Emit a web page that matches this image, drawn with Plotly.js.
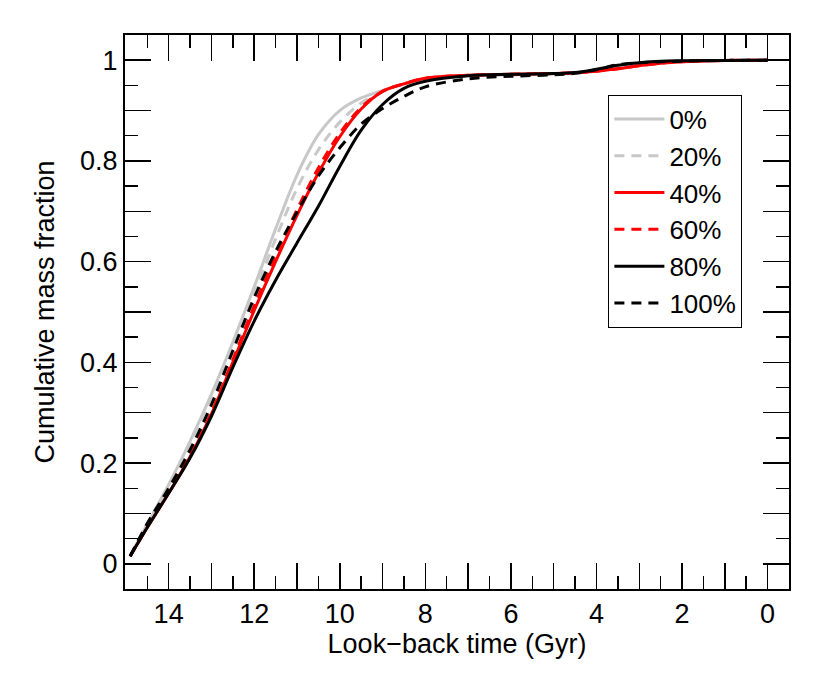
<!DOCTYPE html>
<html>
<head>
<meta charset="utf-8">
<script src="https://cdn.plot.ly/plotly-3.0.1.min.js"></script>
<style>html,body{margin:0;padding:0;background:#fff;}#chart{width:830px;height:694px;}</style>
</head>
<body>
<div id="chart"></div>
<script>
// Look-back time (Gyr)
const lookback = [14.9, 14.5, 14, 13.5, 13, 12.5, 12, 11.5, 11, 10.5, 10, 9.5, 9, 8.5, 8, 7, 6, 5, 4.5, 4, 3.5, 3, 2.5, 2, 1, 0];
// Cumulative mass fraction per series
const frac0   = [0.015, 0.079, 0.157, 0.243, 0.337, 0.440, 0.550, 0.665, 0.772, 0.852, 0.900, 0.925, 0.940, 0.953, 0.961, 0.969, 0.971, 0.973, 0.975, 0.980, 0.988, 0.993, 0.996, 0.998, 0.9995, 1.0];
const frac20  = [0.015, 0.078, 0.155, 0.238, 0.332, 0.432, 0.535, 0.645, 0.745, 0.822, 0.877, 0.915, 0.938, 0.953, 0.962, 0.969, 0.971, 0.973, 0.975, 0.980, 0.988, 0.993, 0.996, 0.998, 0.9995, 1.0];
const frac40  = [0.015, 0.072, 0.140, 0.212, 0.297, 0.400, 0.503, 0.600, 0.692, 0.776, 0.848, 0.903, 0.938, 0.953, 0.964, 0.970, 0.972, 0.9735, 0.975, 0.978, 0.983, 0.989, 0.994, 0.997, 0.9995, 1.0];
const frac60  = [0.015, 0.073, 0.142, 0.215, 0.301, 0.405, 0.512, 0.610, 0.703, 0.786, 0.855, 0.906, 0.938, 0.953, 0.964, 0.970, 0.972, 0.9735, 0.975, 0.978, 0.983, 0.989, 0.994, 0.997, 0.9995, 1.0];
const frac80  = [0.015, 0.072, 0.140, 0.210, 0.293, 0.390, 0.482, 0.563, 0.637, 0.710, 0.789, 0.861, 0.912, 0.944, 0.958, 0.969, 0.972, 0.9735, 0.9755, 0.982, 0.990, 0.995, 0.998, 0.9988, 0.9995, 1.0];
const frac100 = [0.015, 0.080, 0.150, 0.226, 0.316, 0.423, 0.528, 0.620, 0.698, 0.770, 0.826, 0.873, 0.904, 0.928, 0.947, 0.963, 0.968, 0.971, 0.974, 0.981, 0.991, 0.995, 0.997, 0.998, 0.9995, 1.0];

const seriesNames = ['0%', '20%', '40%', '60%', '80%', '100%'];
const seriesData = [frac0, frac20, frac40, frac60, frac80, frac100];
const seriesColors = ['#c8c8c8', '#c8c8c8', '#ff0000', '#ff0000', '#000000', '#000000'];
const seriesDash = ['solid', '10px,7px', 'solid', '10px,7px', 'solid', '10px,7px'];

const xTickVals = [0,1,2,3,4,5,6,7,8,9,10,11,12,13,14];
const xTickText = ['0','','2','','4','','6','','8','','10','','12','','14'];
const yTickVals = [0,0.1,0.2,0.3,0.4,0.5,0.6,0.7,0.8,0.9,1.0];
const yTickText = ['0','','0.2','','0.4','','0.6','','0.8','','1'];

const FONT = '"Liberation Sans", Arial, Helvetica, sans-serif';

const traces = seriesNames.map((n, i) => ({
  x: lookback, y: seriesData[i], name: n, type: 'scatter', mode: 'lines',
  line: {color: seriesColors[i], width: 3, dash: seriesDash[i], shape: 'spline', smoothing: 1}
}));

const axisCommon = {
  showline: true, linecolor: '#000', linewidth: 2, mirror: 'allticks',
  ticks: 'inside', ticklen: 26, tickwidth: 1.5, tickcolor: '#000',
  showgrid: false, zeroline: false, tickmode: 'array',
  tickfont: {family: FONT, size: 27, color: '#000'}
};

const layout = {
  width: 830, height: 694,
  margin: {l: 125, r: 41, t: 35, b: 105},
  paper_bgcolor: '#fff', plot_bgcolor: '#fff',
  font: {family: FONT, color: '#000'},
  showlegend: true,
  legend: {
    x: 0.728, y: 0.8925, xanchor: 'left', yanchor: 'top',
    bordercolor: '#000', borderwidth: 1, bgcolor: '#fff',
    font: {family: FONT, size: 26, color: '#000'},
    tracegroupgap: 0, itemwidth: 50
  },
  xaxis: Object.assign({}, axisCommon, {
    range: [15.02, -0.5], tickvals: xTickVals, ticktext: xTickText,
    ticklabelstandoff: 0,
    minor: {tickmode: 'linear', tick0: 0.5, dtick: 1, ticks: 'inside', ticklen: 13, tickwidth: 1.5, tickcolor: '#000'},
    title: {text: 'Look\u2212back time (Gyr)', font: {family: FONT, size: 27, color: '#000'}, standoff: 0}
  }),
  yaxis: Object.assign({}, axisCommon, {
    range: [-0.05, 1.05], tickvals: yTickVals, ticktext: yTickText,
    minor: {tickmode: 'linear', tick0: 0.05, dtick: 0.1, ticks: 'inside', ticklen: 13, tickwidth: 1.5, tickcolor: '#000'},
    title: {text: 'Cumulative mass fraction', font: {family: FONT, size: 27, color: '#000'}, standoff: 18}
  })
};

Plotly.newPlot('chart', traces, layout, {displayModeBar: false, staticPlot: true});
</script>
</body>
</html>
